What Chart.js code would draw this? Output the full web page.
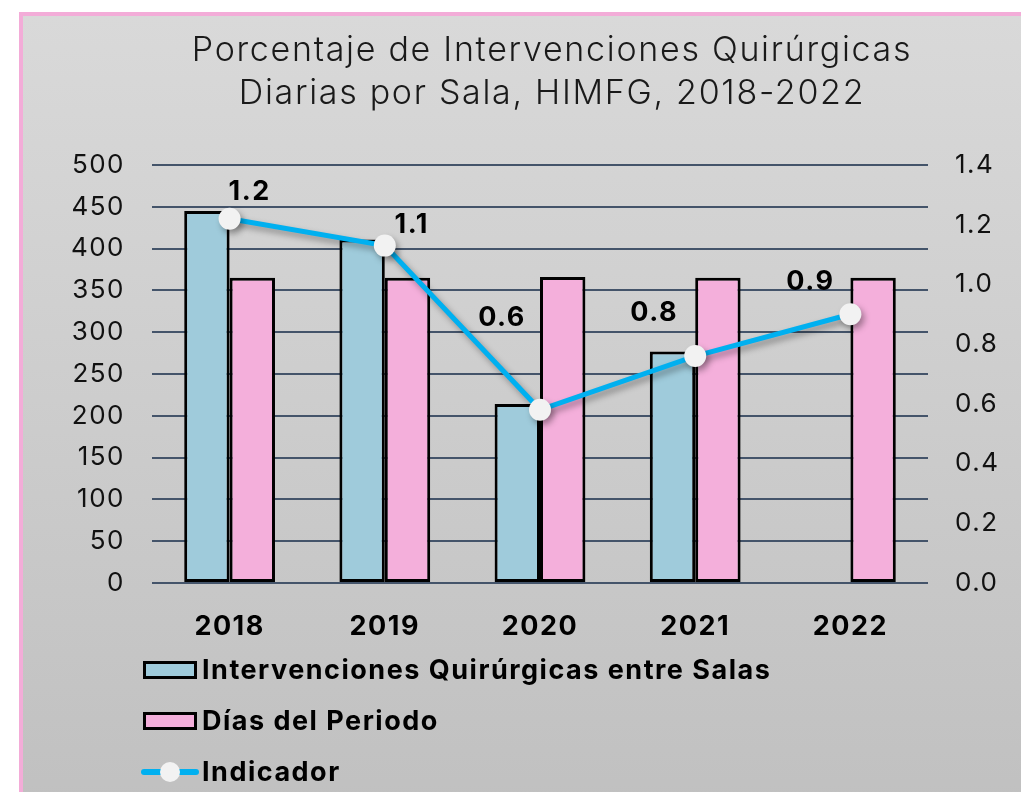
<!DOCTYPE html>
<html lang="es">
<head>
<meta charset="utf-8">
<title>Porcentaje de Intervenciones Quirúrgicas Diarias por Sala, HIMFG, 2018-2022</title>
<script src="https://cdn.jsdelivr.net/npm/chart.js@4/dist/chart.umd.min.js"></script>
<style>
  html, body { margin: 0; padding: 0; background: #ffffff; overflow: hidden; width: 1021px; height: 792px; }
  #panel {
    position: absolute; left: 19px; top: 12px;
    width: 1058px; height: 830px;
    border: 4px solid #f3acd8;
    background: linear-gradient(to bottom, #d9d9d9 0%, #bfbfbf 100%);
  }
  #chart { position: absolute; left: 0; top: 0; }
</style>
</head>
<body>
<div id="panel"><canvas id="chart" width="1058" height="830"></canvas></div>
<script>
// Años del periodo
const years = ['2018', '2019', '2020', '2021', '2022'];
// Intervenciones quirúrgicas entre salas (2022 sin dato)
const intervenciones = [445, 411, 214, 277, null];
// Días del periodo
const dias = [365, 365, 366, 365, 365];
// Indicador: intervenciones diarias por sala
const indicador = [1.22, 1.13, 0.58, 0.76, 0.90];
// Etiquetas de los ejes
const leftTicks = [0, 50, 100, 150, 200, 250, 300, 350, 400, 450, 500];
const rightTicks = [0.0, 0.2, 0.4, 0.6, 0.8, 1.0, 1.2, 1.4];
// Título en dos líneas
const titleLines = ['Porcentaje de Intervenciones Quirúrgicas', 'Diarias por Sala, HIMFG, 2018-2022'];

const FONT = "Inter, 'DejaVu Sans', sans-serif";
const BLUE = '#9fcbdb';
const PINK = '#f4afdb';
const LINE = '#00b0f0';

// Espaciado de letras para los textos de los ejes
const axisSpacing = {
  id: 'axisSpacing',
  beforeDraw(chart, args, opts) { chart.ctx.letterSpacing = opts.spacing; },
  afterDraw(chart) { chart.ctx.letterSpacing = '0px'; }
};

// Título centrado en la parte superior
const topTitle = {
  id: 'topTitle',
  afterDraw(chart, args, opts) {
    const ctx = chart.ctx;
    ctx.save();
    ctx.letterSpacing = opts.spacing;
    ctx.font = `${opts.weight} ${opts.size}px ${FONT}`;
    ctx.fillStyle = '#1a1a1a';
    ctx.textAlign = 'center';
    ctx.textBaseline = 'middle';
    opts.lines.forEach((t, i) => ctx.fillText(t, chart.width / 2, opts.top + i * opts.lineGap));
    ctx.restore();
  }
};

// Sombra suave bajo la línea del indicador
const lineShadow = {
  id: 'lineShadow',
  beforeDatasetDraw(chart, args) {
    if (args.meta.type !== 'line') return;
    const ctx = chart.ctx;
    ctx.save();
    ctx.shadowColor = 'rgba(0,0,0,0.35)';
    ctx.shadowBlur = 6;
    ctx.shadowOffsetX = 3;
    ctx.shadowOffsetY = 4;
  },
  afterDatasetDraw(chart, args) {
    if (args.meta.type !== 'line') return;
    chart.ctx.restore();
  }
};

// Valores del indicador junto a cada punto
const pointLabels = {
  id: 'pointLabels',
  afterDatasetsDraw(chart, args, opts) {
    const ctx = chart.ctx;
    chart.data.datasets.forEach((ds, di) => {
      if (ds.type !== 'line') return;
      const meta = chart.getDatasetMeta(di);
      meta.data.forEach((pt, i) => {
        const v = ds.data[i];
        if (v == null) return;
        const off = opts.offsets[i] || [0, -20];
        ctx.save();
        ctx.letterSpacing = opts.spacing;
        ctx.font = `bold ${opts.size}px ${FONT}`;
        ctx.fillStyle = '#000';
        ctx.textAlign = 'center';
        ctx.textBaseline = 'middle';
        ctx.fillText(v.toFixed(1), pt.x + off[0], pt.y + off[1]);
        ctx.restore();
      });
    });
  }
};

// Leyenda vertical en la parte inferior
const stackedLegend = {
  id: 'stackedLegend',
  afterDraw(chart, args, opts) {
    const ctx = chart.ctx;
    chart.data.datasets.forEach((ds, row) => {
      const cy = opts.top + row * opts.rowGap;
      const x0 = opts.left, w = opts.boxWidth, h = opts.boxHeight;
      ctx.save();
      if (ds.type === 'line') {
        ctx.strokeStyle = ds.borderColor;
        ctx.lineWidth = 6;
        ctx.lineCap = 'round';
        ctx.beginPath();
        ctx.moveTo(x0 + 1, cy);
        ctx.lineTo(x0 + w - 1, cy);
        ctx.stroke();
        ctx.fillStyle = ds.pointBackgroundColor;
        ctx.beginPath();
        ctx.arc(x0 + w / 2, cy, 10, 0, Math.PI * 2);
        ctx.fill();
      } else {
        ctx.fillStyle = ds.backgroundColor;
        ctx.fillRect(x0, cy - h / 2, w, h);
        ctx.strokeStyle = '#000';
        ctx.lineWidth = 3;
        ctx.strokeRect(x0 + 1.5, cy - h / 2 + 1.5, w - 3, h - 3);
      }
      ctx.letterSpacing = opts.spacing;
      ctx.font = `bold ${opts.size}px ${FONT}`;
      ctx.fillStyle = '#000';
      ctx.textAlign = 'left';
      ctx.textBaseline = 'middle';
      ctx.fillText(ds.label, x0 + w + 5, cy + 1);
      ctx.restore();
    });
  }
};

new Chart(document.getElementById('chart'), {
  data: {
    labels: years,
    datasets: [
      {
        type: 'bar',
        label: 'Intervenciones Quirúrgicas entre Salas',
        data: intervenciones,
        backgroundColor: BLUE,
        borderColor: '#000',
        borderWidth: 3,
        borderSkipped: false,
        categoryPercentage: 0.585,
        barPercentage: 1.0,
        yAxisID: 'y',
        order: 2
      },
      {
        type: 'bar',
        label: 'Días del Periodo',
        data: dias,
        backgroundColor: PINK,
        borderColor: '#000',
        borderWidth: 3,
        borderSkipped: false,
        categoryPercentage: 0.585,
        barPercentage: 1.0,
        yAxisID: 'y',
        order: 2
      },
      {
        type: 'line',
        label: 'Indicador',
        data: indicador,
        borderColor: LINE,
        borderWidth: 5,
        pointBackgroundColor: '#f2f2f2',
        pointBorderColor: '#f2f2f2',
        pointBorderWidth: 0,
        pointRadius: 11,
        pointHoverRadius: 11,
        tension: 0,
        yAxisID: 'y1',
        order: 0
      }
    ]
  },
  options: {
    responsive: false,
    animation: false,
    devicePixelRatio: 1,
    layout: { padding: { top: 149, left: 0, right: 0, bottom: 0 } },
    plugins: {
      legend: { display: false },
      tooltip: { enabled: false },
      title: { display: false },
      axisSpacing: { spacing: '1.5px' },
      topTitle: { lines: titleLines, size: 34, weight: '300', spacing: '1.7px', top: 35, lineGap: 43 },
      pointLabels: {
        size: 27, spacing: '1.5px',
        offsets: [[20, -27], [27, -21], [-38, -92], [-41, -43], [-40, -32]]
      },
      stackedLegend: {
        left: 120, top: 654, rowGap: 51,
        boxWidth: 54, boxHeight: 18, size: 27, spacing: '1.5px'
      }
    },
    scales: {
      x: {
        grid: { display: false },
        border: { display: false },
        ticks: {
          color: '#000',
          font: { family: FONT, size: 27, weight: 'bold' },
          padding: 20
        },
        afterFit(scale) { scale.height = 263; }
      },
      y: {
        position: 'left',
        min: 0, max: 500,
        afterBuildTicks(scale) { scale.ticks = leftTicks.map(v => ({ value: v })); },
        grid: { color: '#44546a', lineWidth: 2, drawTicks: false },
        border: { display: false },
        ticks: {
          color: '#111',
          font: { family: FONT, size: 26, weight: '400' },
          padding: 27
        },
        afterFit(scale) { scale.width = 129; }
      },
      y1: {
        position: 'right',
        min: 0, max: 1.4,
        afterBuildTicks(scale) { scale.ticks = rightTicks.map(v => ({ value: v })); },
        grid: { drawOnChartArea: false, drawTicks: false },
        border: { display: false },
        ticks: {
          color: '#111',
          font: { family: FONT, size: 26, weight: '400' },
          padding: 27,
          callback: (v) => Number(v).toFixed(1)
        },
        afterFit(scale) { scale.width = 153; }
      }
    }
  },
  plugins: [axisSpacing, topTitle, lineShadow, pointLabels, stackedLegend]
});
</script>
</body>
</html>
